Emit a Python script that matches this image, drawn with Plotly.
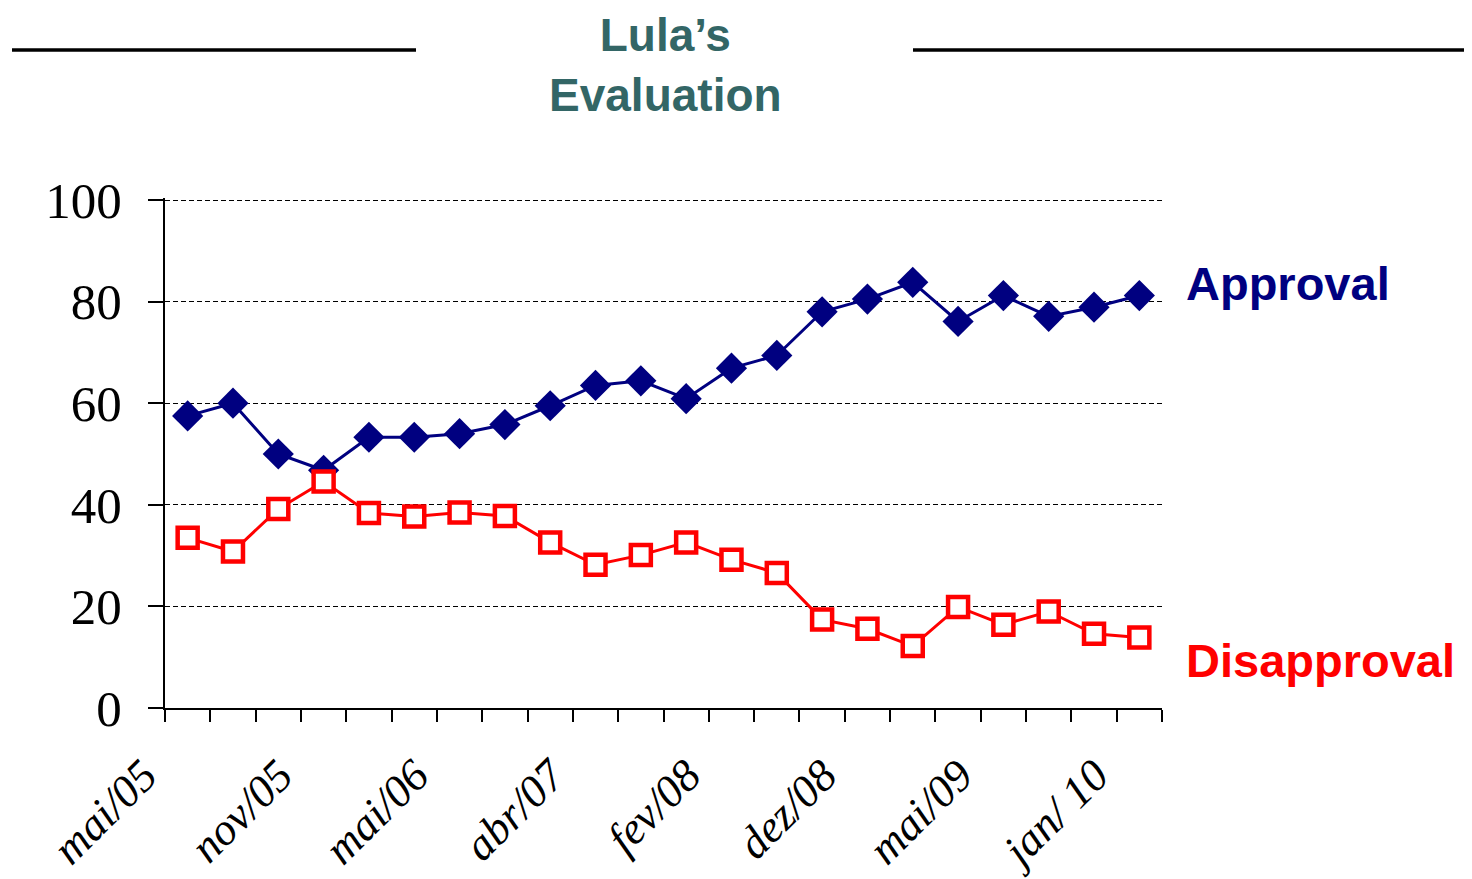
import plotly.graph_objects as go

# ---- data ----
survey_idx = list(range(22))
approval = [57.5, 60, 50, 46.8, 53.3, 53.3, 54, 55.8, 59.5, 63.5, 64.4, 60.9,
            66.9, 69.4, 78, 80.5, 83.8, 76.1, 81.2, 77.1, 78.9, 81.2]
disapproval = [33.5, 30.8, 39.2, 44.6, 38.4, 37.7, 38.5, 37.8, 32.6, 28.2, 30.1, 32.6,
               29.2, 26.6, 17.4, 15.6, 12.2, 19.9, 16.4, 19.0, 14.6, 13.9]
label_idx = [0, 3, 6, 9, 12, 15, 18, 21]
label_text = ["mai/05", "nov/05", "mai/06", "abr/07", "fev/08", "dez/08", "mai/09", "jan/ 10"]
y_ticks = [0, 20, 40, 60, 80, 100]
title_lines = ["Lula’s", "Evaluation"]

OFF = 8  # page body margin
W, H = 1472 - OFF, 879 - OFF
# plot area in screen pixels
PX0, PX1, PY0, PY1 = 165, 1162, 198, 708
L, R, T, B = PX0 - OFF, W - (PX1 - OFF), PY0 - OFF, H - (PY1 - OFF)
pw, ph = PX1 - PX0, PY1 - PY0

def px_x(p):
    return (p - PX0) / pw

def px_y(p):
    return (PY1 - p) / ph

fig = go.Figure()
fig.add_trace(go.Scatter(
    x=survey_idx, y=approval, mode="lines+markers", name="Approval",
    line=dict(color="#000080", width=3),
    marker=dict(symbol="diamond", size=24, color="#000080", line=dict(width=0)),
))
fig.add_trace(go.Scatter(
    x=survey_idx, y=disapproval, mode="lines+markers", name="Disapproval",
    line=dict(color="#ff0000", width=3),
    marker=dict(symbol="square", size=20, color="white", line=dict(color="#ff0000", width=4.5)),
))

fig.update_layout(
    width=W, height=H,
    margin=dict(l=L, r=R, t=T, b=B, pad=0, autoexpand=False),
    plot_bgcolor="white", paper_bgcolor="white",
    showlegend=False,
    xaxis=dict(
        automargin=False,
        range=[-0.5, 21.5], showgrid=False, zeroline=False,
        showline=True, linecolor="black", linewidth=2,
        tickmode="array", tickvals=label_idx, ticktext=label_text,
        ticks="", tickangle=-45,
        ticklabelshift=-44, ticklabelstandoff=21,
        tickfont=dict(family="Liberation Serif", size=45, style="italic", color="black"),
        minor=dict(tickmode="array", tickvals=[i - 0.5 for i in range(23)],
                   ticks="outside", ticklen=12, tickwidth=1.5, tickcolor="black", showgrid=False),
    ),
    yaxis=dict(
        automargin=False,
        range=[0, 100.4], tickmode="array", tickvals=y_ticks,
        showline=True, linecolor="black", linewidth=2,
        ticks="outside", ticklen=15, tickwidth=2, tickcolor="black",
        showgrid=True, gridcolor="black", gridwidth=1.3, griddash="5px,3px",
        zeroline=False,
        tickfont=dict(family="Liberation Serif", size=51, color="black"),
        ticklabelstandoff=16,
    ),
)

fig.add_annotation(
    xref="paper", yref="paper", x=px_x(665), y=px_y(8), xanchor="center", yanchor="top",
    text="<br>".join(f"<b>{t}</b>" for t in title_lines), showarrow=False, borderpad=0,
    font=dict(family="Liberation Sans", size=46, color="#336666"),
)
fig.add_annotation(
    xref="paper", yref="paper", x=px_x(1184), y=px_y(283), xanchor="left", yanchor="middle",
    text="<b>Approval</b>", showarrow=False,
    font=dict(family="Liberation Sans", size=47, color="#000080"),
)
fig.add_annotation(
    xref="paper", yref="paper", x=px_x(1184), y=px_y(660), xanchor="left", yanchor="middle",
    text="<b>Disapproval</b>", showarrow=False,
    font=dict(family="Liberation Sans", size=47, color="#ff0000"),
)

for x0, x1 in [(12, 416), (913, 1466)]:
    fig.add_shape(type="line", xref="paper", yref="paper",
                  x0=px_x(x0), x1=px_x(x1), y0=px_y(50), y1=px_y(50),
                  line=dict(color="black", width=3.5))

fig.write_html("out.html")
